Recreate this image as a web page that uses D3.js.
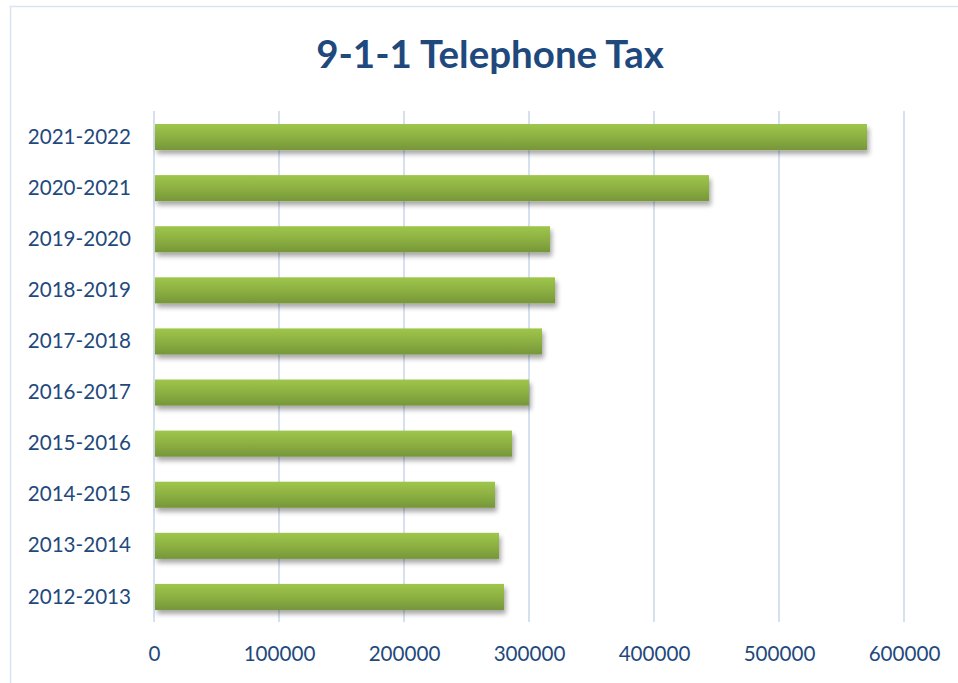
<!DOCTYPE html>
<html><head><meta charset="utf-8">
<script src="https://cdn.jsdelivr.net/npm/d3@7"></script>
<style>body{margin:0;background:#fff}svg{display:block}</style>
</head><body><svg id="c" width="958" height="683"></svg>
<script>
const categories = ["2021-2022","2020-2021","2019-2020","2018-2019","2017-2018","2016-2017","2015-2016","2014-2015","2013-2014","2012-2013"];
const values = [570400, 444000, 316800, 320800, 310400, 300000, 286400, 272800, 276000, 280000];
const xTicks = [0,100000,200000,300000,400000,500000,600000];
const title = "9-1-1 Telephone Tax";

const svg = d3.select("#c");
const textColor = "#1F497D";
const font = "Lato, 'Open Sans', sans-serif";

svg.append("rect").attr("x",10.5).attr("y",6.5).attr("width",980).attr("height",700)
  .attr("fill","#fff").attr("stroke","#D9E4F2").attr("stroke-width",1.5);

const defs = svg.append("defs");
const g = defs.append("linearGradient").attr("id","bar").attr("x1",0).attr("y1",0).attr("x2",0).attr("y2",1);
g.append("stop").attr("offset","0%").attr("stop-color","#9EC64A");
g.append("stop").attr("offset","50%").attr("stop-color","#8DB042");
g.append("stop").attr("offset","100%").attr("stop-color","#769639");
const f = defs.append("filter").attr("id","sh").attr("x","-5%").attr("y","-30%").attr("width","115%").attr("height","190%");
f.append("feGaussianBlur").attr("in","SourceAlpha").attr("stdDeviation",2.5).attr("result","b");
f.append("feOffset").attr("in","b").attr("dx",2).attr("dy",4).attr("result","o");
f.append("feComponentTransfer").attr("in","o").attr("result","o2").append("feFuncA").attr("type","linear").attr("slope",0.35);
const m = f.append("feMerge");
m.append("feMergeNode").attr("in","o2");
m.append("feMergeNode").attr("in","SourceGraphic");

const x = d3.scaleLinear().domain([0,600000]).range([154,904]);
const y = d3.scaleBand().domain(categories).range([111.5,622.5]).paddingInner(0.49).paddingOuter(0.245);

// gridlines
svg.append("g").selectAll("line").data(xTicks).join("line")
  .attr("x1",d=>x(d)).attr("x2",d=>x(d)).attr("y1",111).attr("y2",622)
  .attr("stroke","#D6E1F0").attr("stroke-width",2);

// bars
svg.append("g").selectAll("rect").data(values).join("rect")
  .attr("x",x(0)+1).attr("y",(d,i)=>y(categories[i]))
  .attr("width",d=>x(d)-x(0)-1).attr("height",y.bandwidth())
  .attr("fill","url(#bar)").attr("filter","url(#sh)");

// y axis labels
const ya = svg.append("g").attr("transform",`translate(${x(0)},0)`)
  .call(d3.axisLeft(y).tickSize(0).tickPadding(23));
ya.select(".domain").remove();
ya.selectAll("text").attr("fill",textColor).attr("font-family",font).attr("font-size","20.6px");

// x axis labels
const xa = svg.append("g").attr("transform","translate(0,636)")
  .call(d3.axisBottom(x).tickValues(xTicks).tickFormat(d3.format("d")).tickSize(0).tickPadding(10));
xa.select(".domain").remove();
xa.selectAll("text").attr("fill",textColor).attr("font-family",font).attr("font-size","20.6px");

svg.append("text").attr("x",490).attr("y",68).attr("text-anchor","middle")
  .attr("fill",textColor).attr("font-family",font).attr("font-weight","bold").attr("font-size","38.5px")
  .text(title);
</script></body></html>
